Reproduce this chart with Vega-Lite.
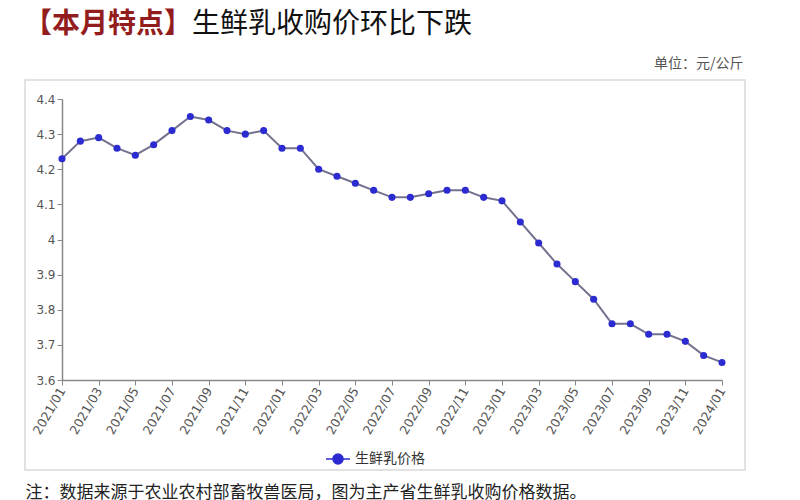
{
  "$schema": "https://vega.github.io/schema/vega-lite/v6.json",
  "autosize": "none",
  "width": 720,
  "height": 390,
  "padding": {"left": 25, "top": 80, "right": 55, "bottom": 30},
  "background": "white",
  "title": {
    "text": "【本月特点】",
    "subtitle": "\u200b　　　　　　生鲜乳收购价环比下跌",
    "anchor": "start",
    "frame": "group",
    "font": "Noto Sans CJK SC",
    "fontSize": 28,
    "fontWeight": "bold",
    "color": "#931d1d",
    "subtitleFont": "Noto Sans CJK SC",
    "subtitleFontSize": 28,
    "subtitleFontWeight": "normal",
    "subtitleColor": "#111111",
    "subtitlePadding": -28,
    "baseline": "top",
    "offset": 10,
    "dx": -1,
    "dy": -7
  },
  "data": {
    "values": [
      {"month": "2021/01", "price": 4.23},
      {"month": "2021/02", "price": 4.28},
      {"month": "2021/03", "price": 4.29},
      {"month": "2021/04", "price": 4.26},
      {"month": "2021/05", "price": 4.24},
      {"month": "2021/06", "price": 4.27},
      {"month": "2021/07", "price": 4.31},
      {"month": "2021/08", "price": 4.35},
      {"month": "2021/09", "price": 4.34},
      {"month": "2021/10", "price": 4.31},
      {"month": "2021/11", "price": 4.30},
      {"month": "2021/12", "price": 4.31},
      {"month": "2022/01", "price": 4.26},
      {"month": "2022/02", "price": 4.26},
      {"month": "2022/03", "price": 4.20},
      {"month": "2022/04", "price": 4.18},
      {"month": "2022/05", "price": 4.16},
      {"month": "2022/06", "price": 4.14},
      {"month": "2022/07", "price": 4.12},
      {"month": "2022/08", "price": 4.12},
      {"month": "2022/09", "price": 4.13},
      {"month": "2022/10", "price": 4.14},
      {"month": "2022/11", "price": 4.14},
      {"month": "2022/12", "price": 4.12},
      {"month": "2023/01", "price": 4.11},
      {"month": "2023/02", "price": 4.05},
      {"month": "2023/03", "price": 3.99},
      {"month": "2023/04", "price": 3.93},
      {"month": "2023/05", "price": 3.88},
      {"month": "2023/06", "price": 3.83},
      {"month": "2023/07", "price": 3.76},
      {"month": "2023/08", "price": 3.76},
      {"month": "2023/09", "price": 3.73},
      {"month": "2023/10", "price": 3.73},
      {"month": "2023/11", "price": 3.71},
      {"month": "2023/12", "price": 3.67},
      {"month": "2024/01", "price": 3.65}
    ]
  },
  "encoding": {
    "x": {
      "field": "month",
      "type": "ordinal",
      "sort": null,
      "scale": {"type": "point", "range": [37, 697], "padding": 0},
      "axis": {
        "orient": "bottom",
        "offset": -90,
        "values": ["2021/01", "2021/03", "2021/05", "2021/07", "2021/09", "2021/11", "2022/01", "2022/03", "2022/05", "2022/07", "2022/09", "2022/11", "2023/01", "2023/03", "2023/05", "2023/07", "2023/09", "2023/11", "2024/01"],
        "labelAngle": -60,
        "labelAlign": "right",
        "labelBaseline": "middle",
        "labelPadding": 3,
        "labelFontSize": 12.5,
        "title": "注：数据来源于农业农村部畜牧兽医局，图为主产省生鲜乳收购价格数据。",
        "titleFont": "Noto Sans CJK SC",
        "titleFontSize": 17,
        "titleFontWeight": "normal",
        "titleColor": "#222222",
        "titleAlign": "left",
        "titleAnchor": "start",
        "titleBaseline": "top",
        "titleX": 0,
        "titleY": 104
      }
    },
    "y": {
      "field": "price",
      "type": "quantitative",
      "scale": {"domain": [3.6, 4.4], "range": [300, 19], "nice": false, "zero": false},
      "axis": {
        "offset": -37,
        "values": [3.6, 3.7, 3.8, 3.9, 4.0, 4.1, 4.2, 4.3, 4.4],
        "format": ".1~f",
        "title": "单位：元/公斤",
        "titleFont": "Noto Sans CJK SC",
        "titleFontSize": 14,
        "titleFontWeight": "normal",
        "titleColor": "#555555",
        "titleAngle": 0,
        "titleAlign": "right",
        "titleBaseline": "alphabetic",
        "titleX": 681,
        "titleY": -13
      }
    }
  },
  "layer": [
    {
      "mark": {"type": "line", "color": "#72728f", "strokeWidth": 2}
    },
    {
      "mark": {"type": "point", "filled": true, "size": 50, "opacity": 1},
      "encoding": {
        "color": {
          "datum": "生鲜乳价格",
          "scale": {"range": ["#2b2bd1"]},
          "legend": {
            "title": null,
            "orient": "none",
            "legendX": 300,
            "legendY": 366,
            "symbolType": "M-1,0L-0.42,0M0.42,0L1,0M0.42,0A0.42,0.42,0,1,1,-0.42,0A0.42,0.42,0,1,1,0.42,0Z",
            "symbolSize": 576,
            "symbolStrokeColor": "#2b2bd1",
            "symbolStrokeWidth": 1.5,
            "symbolOpacity": 1,
            "labelFont": "Noto Sans CJK SC",
            "labelFontSize": 14,
            "labelColor": "#333333"
          }
        }
      }
    }
  ],
  "config": {
    "view": {"stroke": "#d9d9d9", "strokeWidth": 1.5},
    "axis": {
      "grid": false,
      "domainColor": "#888888",
      "domainWidth": 1.5,
      "tickColor": "#888888",
      "tickSize": 5,
      "labelFont": "DejaVu Sans",
      "labelFontSize": 12,
      "labelColor": "#555555"
    }
  }
}
